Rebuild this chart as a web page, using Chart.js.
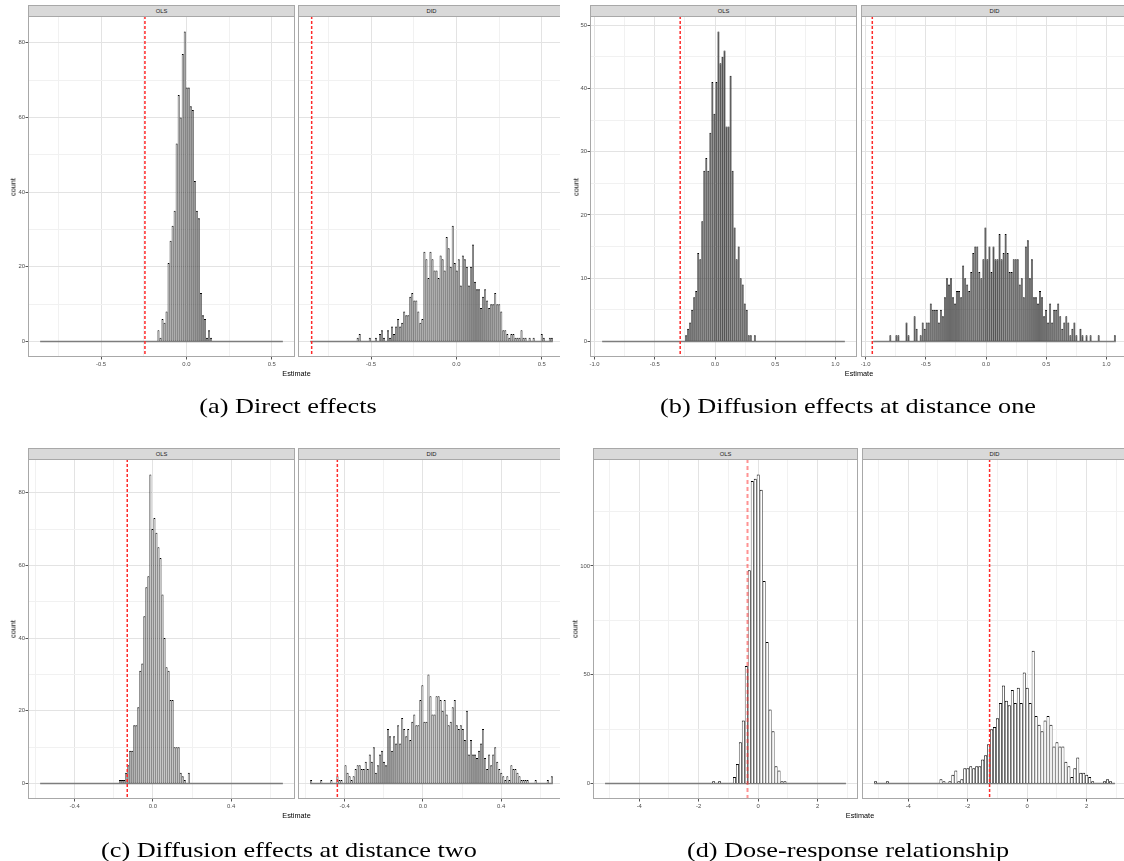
<!DOCTYPE html>
<html><head><meta charset="utf-8">
<script src="https://cdn.jsdelivr.net/npm/chart.js@4.4.1/dist/chart.umd.min.js"></script>
<style>
html,body{margin:0;padding:0;background:#fff;}
#root{position:relative;width:1124px;height:861px;overflow:hidden;font-family:"Liberation Sans",Arial,sans-serif;}
.sub{position:absolute;overflow:hidden;}
.strip{position:absolute;box-sizing:border-box;background:#d9d9d9;border:1px solid #a8a8a8;border-bottom-color:#6b6b6b;color:#1a1a1a;font-size:5.8px;text-align:center;}
.ylab{position:absolute;font-size:7.3px;color:#000;transform:translate(-50%,-50%) rotate(-90deg);white-space:nowrap;}
.xlab{position:absolute;font-size:7.3px;color:#000;transform:translate(-50%,-50%);white-space:nowrap;}
.cap{position:absolute;font-family:"Liberation Serif","Times New Roman",serif;font-size:21px;color:#000;white-space:nowrap;transform:translate(-50%,-50%) scaleX(1.25);}
canvas{position:absolute;}
</style></head><body><div id="root"></div>
<script>
// ---------------- DATA ----------------
const facetNames = ['OLS', 'DID'];
const captions = ['(a) Direct effects', '(b) Diffusion effects at distance one',
                  '(c) Diffusion effects at distance two', '(d) Dose-response relationship'];
const xTitle = 'Estimate';
const yTitle = 'count';

// (a) Direct effects
const aBinRange = [-0.857, 0.565];
const aBinCount = 120;
const aOlsFirstBin = 58;
const aOlsCounts = [3,1,6,5,8,21,27,31,35,53,66,60,77,83,68,68,63,62,43,35,33,13,7,6,1,3,1];
const aDidFirstBin = 23;
const aDidCounts = [1,2,0,0,0,0,1,0,0,1,0,2,3,1,0,3,1,4,2,4,6,4,5,8,7,7,12,13,11,11,8,5,
  6,
  24,22,17,24,22,19,19,17,23,22,19,28,25,20,31,21,19,22,15,23,22,20,15,20,26,16,14,14,9,12,14,11,9,10,10,13,10,10,8,
  3,3,2,1,2,2,1,1,1,3,1,1,0,1,0,1,0,0,0,2,1,0,0,1,1];
const aRefLines = [-0.243, -0.848];
const aXTicks = [-0.5, 0, 0.5];
const aXTickLabels = ['-0.5', '0.0', '0.5'];
const aXMinor = [-0.75, -0.25, 0.25];
const aYTicks = [0, 20, 40, 60, 80];
const aYMinor = [10, 30, 50, 70];

// (b) Diffusion effects at distance one
const bBinRange = [-0.937, 1.078];
const bBinCount = 120;
const bOlsFirstBin = 41;
const bOlsCounts = [1,2,3,5,7,8,14,13,19,27,29,27,33,41,36,41,49,44,45,46,34,34,42,27,18,13,15,10,9,6,5,1,1,0,1];
const bDidFirstBin = 8;
const bDidCounts = [1,0,0,1,1,0,0,0,3,1,0,0,4,2,0,1,3,2,3,3,
  6,5,5,5,3,5,4,7,10,9,10,7,6,8,8,7,12,10,9,8,
  11,14,15,15,11,10,13,18,13,15,11,15,13,13,17,13,14,17,14,11,
  11,13,13,13,9,10,7,15,16,10,13,7,7,6,8,7,4,5,3,6,
  3,5,5,6,4,2,3,4,3,1,2,3,1,0,2,1,0,1,0,1,
  0,0,0,1,0,0,0,0,0,0,0,1];
const bRefLines = [-0.289, -0.944];
const bXTicks = [-1, -0.5, 0, 0.5, 1];
const bXTickLabels = ['-1.0', '-0.5', '0.0', '0.5', '1.0'];
const bXMinor = [-0.75, -0.25, 0.25, 0.75];
const bYTicks = [0, 10, 20, 30, 40, 50];
const bYMinor = [5, 15, 25, 35, 45];

// (c) Diffusion effects at distance two
const cBinRange = [-0.576, 0.664];
const cBinCount = 120;
const cOlsFirstBin = 39;
const cOlsCounts = [1,1,1,3,5,9,9,16,16,21,31,33,46,54,57,85,70,73,69,65,62,52,40,32,31,23,23,10,10,10,3,2,1,0,3,0];
const cDidFirstBin = 0;
const cDidCounts = [1,0,0,0,0,1,0,0,0,0,1,0,0,2,1,1,0,5,3,2,
  1,2,4,5,5,4,4,6,4,8,6,10,3,5,8,9,6,5,15,13,
  9,13,11,16,11,18,15,13,15,12,17,19,16,16,23,27,17,17,30,24,
  19,19,24,24,23,20,23,19,16,17,21,23,16,15,16,15,12,20,8,12,
  8,8,7,9,11,15,7,4,8,5,8,10,6,4,3,2,1,2,1,5,
  4,4,3,2,1,1,1,1,0,0,0,1,0,0,0,0,0,1,0,2];
const cRefLines = [-0.131, -0.437];
const cXTicks = [-0.4, 0, 0.4];
const cXTickLabels = ['-0.4', '0.0', '0.4'];
const cXMinor = [-0.6, -0.2, 0.2, 0.6];
const cYTicks = [0, 20, 40, 60, 80];
const cYMinor = [10, 30, 50, 70];

// (d) Dose-response relationship
const dBinRange = [-5.15, 2.95];
const dBinCount = 81;
const dOlsFirstBin = 36;
const dOlsCounts = [1,0,1,0,0,0,0,3,9,19,29,54,98,139,140,142,135,93,65,34,24,8,6,1,1];
const dDidFirstBin = 0;
const dDidCounts = [1,0,0,0,1,0,0,0,0,0,0,0,0,0,0,0,0,0,0,0,
  0,0,2,1,0,1,4,6,1,2,7,7,8,7,8,8,11,13,18,25,
  26,30,37,45,38,36,43,37,44,37,51,44,37,61,31,27,24,29,31,27,
  17,19,17,17,10,8,3,7,12,5,5,4,3,1,0,0,0,1,2,1,0];
const dRefLines = [-0.36, -1.265];
const dXTicks = [-4, -2, 0, 2];
const dXTickLabels = ['-4', '-2', '0', '2'];
const dXMinor = [-5, -3, -1, 1, 3];
const dYTicks = [0, 50, 100];
const dYMinor = [25, 75, 125];

// ---------------- LAYOUT / STYLE ----------------
Chart.defaults.font.family = '"Liberation Sans", Arial, sans-serif';
const XAXIS_H = 14;
const near = (arr, v) => arr.some(t => Math.abs(t - v) < 1e-9);

const panelDeco = {
  id: 'panelDeco',
  afterDatasetsDraw(chart, args, o) {
    const {ctx, chartArea: a, scales} = chart;
    const x = scales.x.getPixelForValue(o.ref);
    ctx.save();
    ctx.beginPath(); ctx.rect(a.left, a.top, a.width, a.height); ctx.clip();
    ctx.strokeStyle = o.refColor; ctx.lineWidth = o.refWidth; ctx.setLineDash(o.dash);
    ctx.beginPath(); ctx.moveTo(x, a.top); ctx.lineTo(x, a.bottom); ctx.stroke();
    ctx.restore();
    ctx.save();
    ctx.strokeStyle = '#a8a8a8'; ctx.lineWidth = 1;
    ctx.strokeRect(a.left + 0.5, a.top + 0.5, a.width - 1, a.height - 1);
    ctx.restore();
  }
};

function addDiv(wrap, cls, text, css) {
  const el = document.createElement('div');
  el.className = cls; el.textContent = text;
  Object.assign(el.style, css);
  wrap.appendChild(el);
  return el;
}

function makeFacet(wrap, g, d) {
  addDiv(wrap, 'strip', d.name, {left: g.left + 'px', top: g.stripTop + 'px', width: g.width + 'px',
    height: (g.plotTop - g.stripTop + 1) + 'px', lineHeight: (g.plotTop - g.stripTop - 1) + 'px'});
  const c = document.createElement('canvas');
  const cw = g.width + g.yW, ch = g.height + XAXIS_H;
  c.width = cw; c.height = ch;
  c.style.left = (g.left - g.yW) + 'px'; c.style.top = g.plotTop + 'px';
  wrap.appendChild(c);
  const lo = d.range[0], hi = d.range[1];
  const bw = (hi - lo) / d.nBins;
  const bars = d.counts.map((v, i) => ({x: lo + (d.first + i + 0.5) * bw, y: v}));
  const xPad = (hi - lo) * 0.05;
  const yPad = d.ymax * 0.05;
  const xAll = [...d.xt, ...d.xm].sort((p, q) => p - q);
  const yAll = [...d.yt, ...d.ym].sort((p, q) => p - q);
  const gridColor = (maj) => (ctx) => (ctx.tick && near(maj, ctx.tick.value)) ? '#e3e3e3' : '#f1f1f1';
  const tickCol = (maj) => (ctx) => (ctx.tick && near(maj, ctx.tick.value)) ? '#555' : 'rgba(0,0,0,0)';
  new Chart(c, {
    type: 'bar',
    data: {datasets: [
      {type: 'bar', data: bars, backgroundColor: d.fill, borderColor: '#000',
       borderWidth: {top: 1, left: d.side, right: d.side, bottom: 0}, inflateAmount: 0,
       barPercentage: 1, categoryPercentage: 1, order: 1},
      {type: 'line', data: [{x: lo, y: 0}, {x: hi, y: 0}], borderColor: '#7d7d7d', borderWidth: 1.5,
       pointRadius: 0, order: 2}
    ]},
    options: {
      responsive: false, animation: false, events: [], devicePixelRatio: 1,
      layout: {padding: 0},
      plugins: {legend: {display: false}, tooltip: {enabled: false},
        panelDeco: {ref: d.ref, refColor: d.refColor, refWidth: d.refWidth, dash: d.dash}},
      scales: {
        x: {type: 'linear', min: lo - xPad, max: hi + xPad, offset: false, bounds: 'data',
          afterBuildTicks: s => { s.ticks = xAll.map(v => ({value: v})); },
          afterFit: s => { s.height = XAXIS_H; s.paddingLeft = 0; s.paddingRight = 0; },
          ticks: {autoSkip: false, maxRotation: 0, minRotation: 0, padding: 1,
            font: {size: 5.9}, color: '#4d4d4d',
            callback: v => { const k = d.xt.findIndex(t => Math.abs(t - v) < 1e-9); return k >= 0 ? d.xl[k] : ''; }},
          grid: {offset: false, color: gridColor(d.xt), lineWidth: 1, tickLength: 2.5, tickColor: tickCol(d.xt), tickWidth: 1},
          border: {display: false}},
        y: {type: 'linear', min: -yPad, max: d.ymax + yPad, bounds: 'data', beginAtZero: false,
          afterBuildTicks: s => { s.ticks = yAll.map(v => ({value: v})); },
          afterFit: s => { s.width = g.yW; s.paddingTop = 0; s.paddingBottom = 0; },
          ticks: {display: g.yW > 0, autoSkip: false, padding: 0.5, font: {size: 5.9}, color: '#4d4d4d',
            callback: v => near(d.yt, v) ? String(v) : ''},
          grid: {color: gridColor(d.yt), lineWidth: 1, drawTicks: g.yW > 0, tickLength: 2.5, tickColor: tickCol(d.yt), tickWidth: 1},
          border: {display: false}}
      }
    },
    plugins: [panelDeco]
  });
}

const root = document.getElementById('root');
function makeSub(spec) {
  const w = document.createElement('div');
  w.className = 'sub';
  Object.assign(w.style, {left: spec.x + 'px', top: spec.y + 'px', width: spec.w + 'px', height: spec.h + 'px'});
  root.appendChild(w);
  const ymax = Math.max(...spec.ols.counts, ...spec.did.counts);
  const row = spec.row;
  const geomBase = row === 0 ? {stripTop: 5, plotTop: 16, height: 341} : {stripTop: 18, plotTop: 29, height: 340};
  [spec.ols, spec.did].forEach((f, k) => {
    const g = Object.assign({}, geomBase, {left: spec.lefts[k], width: spec.pw, yW: k === 0 ? 28 : 0});
    const special = spec.refStyle && k === 0;
    makeFacet(w, g, Object.assign({
      name: facetNames[k], range: spec.range, nBins: spec.nBins, ymax: ymax, fill: spec.fill, side: spec.side,
      xt: spec.xt, xl: spec.xl, xm: spec.xm, yt: spec.yt, ym: spec.ym,
      ref: spec.refs[k], refColor: special ? spec.refStyle.color : '#ff2a2a',
      refWidth: special ? spec.refStyle.width : 1.5,
      dash: special ? spec.refStyle.dash : [3, 2]
    }, f));
  });
  addDiv(w, 'ylab', yTitle, {left: spec.countX + 'px', top: (geomBase.plotTop + geomBase.height / 2) + 'px'});
  addDiv(w, 'xlab', xTitle, {left: spec.estX + 'px', top: (geomBase.plotTop + geomBase.height + 15.5) + 'px'});
  addDiv(w, 'cap', spec.caption, {left: spec.capX + 'px', top: (row === 0 ? 406 : 419.5) + 'px'});
}

makeSub({x: 0, y: 0, w: 560, h: 430, row: 0, lefts: [28, 298], pw: 267, range: aBinRange, nBins: aBinCount,
  ols: {first: aOlsFirstBin, counts: aOlsCounts}, did: {first: aDidFirstBin, counts: aDidCounts},
  refs: aRefLines, xt: aXTicks, xl: aXTickLabels, xm: aXMinor, yt: aYTicks, ym: aYMinor,
  fill: '#a6a6a6', side: 0.6, countX: 12.7, estX: 296.5, capX: 288, caption: captions[0]});
makeSub({x: 560, y: 0, w: 564, h: 430, row: 0, lefts: [30, 301], pw: 267, range: bBinRange, nBins: bBinCount,
  ols: {first: bOlsFirstBin, counts: bOlsCounts}, did: {first: bDidFirstBin, counts: bDidCounts},
  refs: bRefLines, xt: bXTicks, xl: bXTickLabels, xm: bXMinor, yt: bYTicks, ym: bYMinor,
  fill: '#555555', side: 0.5, countX: 16, estX: 299, capX: 287.5, caption: captions[1]});
makeSub({x: 0, y: 430, w: 560, h: 431, row: 1, lefts: [28, 298], pw: 267, range: cBinRange, nBins: cBinCount,
  ols: {first: cOlsFirstBin, counts: cOlsCounts}, did: {first: cDidFirstBin, counts: cDidCounts},
  refs: cRefLines, xt: cXTicks, xl: cXTickLabels, xm: cXMinor, yt: cYTicks, ym: cYMinor,
  fill: '#c4c4c4', side: 0.6, countX: 13.3, estX: 296.5, capX: 288.5, caption: captions[2]});
makeSub({x: 560, y: 430, w: 564, h: 431, row: 1, lefts: [33, 302], pw: 265, range: dBinRange, nBins: dBinCount,
  ols: {first: dOlsFirstBin, counts: dOlsCounts}, did: {first: dDidFirstBin, counts: dDidCounts},
  refs: dRefLines, xt: dXTicks, xl: dXTickLabels, xm: dXMinor, yt: dYTicks, ym: dYMinor,
  fill: '#ffffff', side: 0.75, countX: 15, estX: 300, capX: 287.5, caption: captions[3],
  refStyle: {color: 'rgba(255,40,40,0.5)', width: 2, dash: [4, 3]}});
</script></body></html>
